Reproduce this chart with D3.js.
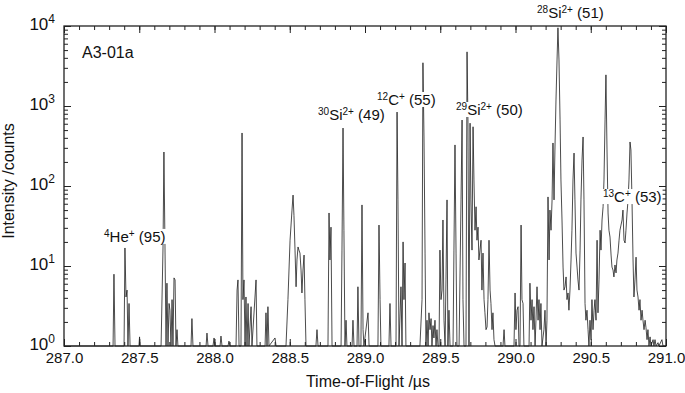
<!DOCTYPE html>
<html>
<head>
<meta charset="utf-8">
<script src="https://cdn.jsdelivr.net/npm/d3@7"></script>
<style>
body { margin: 0; background: #fff; }
text { font-family: "Liberation Sans", Arial, Helvetica, sans-serif; fill: #111; }
</style>
</head>
<body>
<svg width="685" height="393"></svg>
<script>
// time-of-flight (us), intensity (counts)
var spectrum = [
  [287.0,1],
  [287.326,1],[287.332,7.9],[287.339,1],
  [287.399,1],[287.405,16.8],[287.412,4.1],[287.419,5.0],[287.425,1],[287.432,3.4],[287.439,1],
  [287.498,1],[287.502,1.3],[287.505,1],
  [287.645,1],[287.658,17.3],[287.664,266],[287.671,17.3],[287.678,1],[287.684,6.1],[287.691,1],[287.698,3.4],[287.704,2.8],[287.711,1],[287.718,3.8],[287.724,1],[287.731,7.1],[287.738,6.7],[287.744,1],[287.751,1.6],[287.757,1],
  [287.844,1],[287.850,2.2],[287.857,1],
  [287.944,1],[287.950,1.45],[287.957,1],
  [287.990,1],[287.997,1.26],[288.003,1],
  [288.037,1],[288.043,1.33],[288.050,1],
  [288.090,1],[288.096,1.15],[288.103,1],
  [288.143,1],[288.150,5.0],[288.156,6.7],[288.163,1],[288.176,1],[288.183,460],[288.189,3.8],[288.196,6.7],[288.203,1],[288.209,4.1],[288.216,1],[288.223,3.4],[288.229,1],[288.243,3.1],[288.249,1],[288.276,6.7],[288.282,1],
  [288.336,1],[288.342,2.6],[288.349,1],[288.355,3.1],[288.362,1],[288.402,1.26],[288.409,1],
  [288.475,1],[288.488,3.8],[288.502,21],[288.515,50],[288.522,77],[288.528,43],[288.535,15.8],[288.542,5.5],[288.548,11.9],[288.555,17.3],[288.561,15.8],[288.568,14.5],[288.575,8.9],[288.581,4.6],[288.588,8.9],[288.595,13.7],[288.601,3.8],[288.608,1],
  [288.674,1],[288.681,1.6],[288.688,1],
  [288.754,1],[288.761,46],[288.767,11.9],[288.774,30.6],[288.781,1],
  [288.841,1],[288.847,15.8],[288.854,530],[288.860,28],[288.867,1],[288.874,2.1],[288.880,1],
  [288.914,1],[288.920,2.1],[288.927,1],
  [288.947,1],[288.953,5.5],[288.960,1],[288.973,1],[288.980,58],[288.987,1.6],[288.993,1],[289.020,2.6],[289.027,1],
  [289.086,1],[289.093,32.5],[289.100,3.8],[289.106,1],
  [289.159,1],[289.166,3.4],[289.173,1],
  [289.206,1],[289.213,840],[289.219,67],[289.226,1],[289.239,5.5],[289.246,1],[289.253,20],[289.259,3.8],[289.266,10.9],[289.272,1],
  [289.365,1],[289.379,3.8],[289.385,3470],[289.392,410],[289.399,14.5],[289.405,1],[289.412,2.1],[289.419,1],[289.425,2.6],[289.432,1.6],[289.439,2.2],[289.445,1],[289.452,1.8],[289.458,1.26],[289.465,2.1],[289.472,1],[289.478,1.6],[289.485,1],
  [289.492,1],[289.498,15.8],[289.505,3.8],[289.512,5.0],[289.518,37.6],[289.525,2.1],[289.532,1],[289.538,6.7],[289.545,67],[289.551,1],[289.558,2.8],[289.565,1],
  [289.585,1],[289.591,15.8],[289.598,326],[289.605,14.5],[289.611,1],
  [289.625,1],[289.638,67],[289.645,668],[289.651,3.8],[289.658,1],
  [289.671,1],[289.678,4750],[289.684,668],[289.691,1],[289.698,610],[289.704,67],[289.711,15.8],[289.718,550],[289.724,119],[289.731,28],[289.738,55],[289.744,21],[289.751,30.6],[289.757,11.9],[289.764,15.8],[289.771,21],[289.777,5.0],[289.784,14.5],[289.791,3.8],[289.797,2.6],[289.804,1.6],[289.811,1.73],[289.817,3.8],[289.824,21],[289.831,5.0],[289.837,3.4],[289.844,1.6],[289.850,2.6],[289.857,1.2],[289.864,1],
  [289.917,1],[289.924,1.6],[289.930,1],
  [289.990,1],[289.997,4.6],[290.003,1.6],[290.010,2.8],[290.017,3.1],[290.023,1],[290.030,1],[290.037,32.5],[290.043,3.8],[290.050,3.4],[290.056,1],
  [290.090,1],[290.096,6.1],[290.103,2.1],[290.110,3.8],[290.116,1.6],[290.123,3.1],[290.130,1],[290.136,2.1],[290.143,5.5],[290.150,2.1],[290.156,3.8],[290.163,1.6],[290.169,3.4],[290.176,1],[290.189,1.6],[290.196,2.8],[290.203,1],
  [290.209,2.1],[290.216,73],[290.223,11.9],[290.229,50],[290.236,28],[290.243,67],[290.249,345],[290.256,67],[290.262,282],[290.269,1190],[290.276,3760],[290.282,9500],[290.289,3760],[290.296,670],[290.302,119],[290.309,37.6],[290.316,9.7],[290.322,5.0],[290.329,5.5],[290.336,7.3],[290.342,3.8],[290.349,4.6],[290.355,2.8],[290.362,5.0],[290.369,11.9],[290.375,28],[290.382,119],[290.389,258],[290.395,67],[290.402,14.5],[290.409,9.7],[290.415,6.7],[290.422,5.0],[290.429,15.8],[290.435,67],[290.442,211],[290.449,410],[290.455,67],[290.462,3.4],[290.468,2.1],[290.475,2.8],[290.482,1.6],[290.488,1],[290.495,2.1],[290.502,1.2],[290.508,3.8],[290.515,1.6],[290.522,2.8],[290.528,3.8],[290.535,2.1],[290.542,21],[290.548,2.6],[290.555,6.7],
  [290.562,28],[290.568,15.8],[290.575,37.6],[290.582,55],[290.588,119],[290.595,670],[290.601,2450],[290.608,282],[290.615,46],[290.621,28],[290.628,23],[290.635,13.7],[290.641,9.7],[290.648,8.9],[290.654,7.3],[290.661,10.3],[290.668,8.2],[290.674,11.9],[290.681,14.5],[290.688,21],[290.694,28],[290.701,32.5],[290.708,37.6],[290.714,50],[290.721,21],[290.728,19.4],[290.734,28],[290.741,46],[290.748,67],[290.754,119],[290.761,355],[290.767,282],[290.774,67],[290.781,11.9],[290.787,4.1],[290.794,6.7],[290.801,12.9],[290.807,5.0],[290.814,4.1],[290.821,2.8],[290.827,3.8],[290.834,2.1],[290.841,2.8],[290.847,2.1],[290.854,1.6],[290.861,2.1],[290.867,1.7],[290.874,1.2],[290.880,1.6],[290.887,1],[290.894,1.3],[290.900,1],
  [290.914,1.2],[290.920,1],[290.927,1.2],[290.934,1],[290.947,1.1],[290.953,1],[290.973,1.2],[290.980,1],[291.0,1]
];

var xTicks = [287.0, 287.5, 288.0, 288.5, 289.0, 289.5, 290.0, 290.5, 291.0];
var yTicks = [1, 10, 100, 1000, 10000];
var yExponents = ["0", "1", "2", "3", "4"];

// peak annotations
var labelIsotope = ["4", "30", "12", "29", "28", "13"];
var labelElement = ["He", "Si", "C", "Si", "Si", "C"];
var labelCharge  = ["+", "2+", "+", "2+", "2+", "+"];
var labelNumber  = [" (95)", " (49)", " (55)", " (50)", " (51)", " (53)"];
var labelTof     = [287.266, 288.688, 289.080, 289.605, 290.143, 290.581];
var labelCounts  = [20, 668, 1030, 772, 12600, 63];

var sampleName = "A3-01a";

var width = 685, height = 393;
var margin = {left: 64, right: 19, top: 26, bottom: 47};

var svg = d3.select("svg");

var x = d3.scaleLinear().domain([287, 291]).range([margin.left, width - margin.right]);
var y = d3.scaleLog().domain([1, 1e4]).range([height - margin.bottom, margin.top]);

var xMinor = d3.range(2870, 2911).map(function(d) { return d / 10; });
var yMinor = [];
yTicks.slice(0, 4).forEach(function(dec) {
  for (var k = 2; k <= 9; k++) yMinor.push(dec * k);
});

var bottom = height - margin.bottom;
var right = width - margin.right;

// spectrum trace
var line = d3.line()
  .x(function(d) { return x(d[0]); })
  .y(function(d) { return y(d[1]); });

svg.append("path")
  .attr("d", line(spectrum))
  .attr("fill", "none")
  .attr("stroke", "#1e1e1e")
  .attr("stroke-width", 0.8)
  .attr("stroke-linejoin", "round");

// axes, ticks pointing inwards
function styleAxis(g) {
  g.attr("font-family", "Liberation Sans, Arial, sans-serif").attr("color", "#222");
  g.select(".domain").remove();
}

svg.append("g")
  .attr("transform", "translate(0," + bottom + ")")
  .call(d3.axisBottom(x).tickValues(xTicks).tickSizeInner(-7).tickSizeOuter(0).tickPadding(6).tickFormat(d3.format(".1f")))
  .call(styleAxis)
  .attr("font-size", 15);

svg.append("g")
  .attr("transform", "translate(0," + bottom + ")")
  .call(d3.axisBottom(x).tickValues(xMinor).tickSizeInner(-4).tickSizeOuter(0).tickFormat(""))
  .call(styleAxis);

svg.append("g")
  .attr("transform", "translate(0," + margin.top + ")")
  .call(d3.axisTop(x).tickValues(xTicks).tickSizeInner(-7).tickSizeOuter(0).tickFormat(""))
  .call(styleAxis);

svg.append("g")
  .attr("transform", "translate(0," + margin.top + ")")
  .call(d3.axisTop(x).tickValues(xMinor).tickSizeInner(-4).tickSizeOuter(0).tickFormat(""))
  .call(styleAxis);

var yAxisG = svg.append("g")
  .attr("transform", "translate(" + margin.left + ",0)")
  .call(d3.axisLeft(y).tickValues(yTicks).tickSizeInner(-7).tickSizeOuter(0).tickPadding(9).tickFormat(""))
  .call(styleAxis)
  .attr("font-size", 17);

yAxisG.selectAll(".tick text").each(function(d, i) {
  var t = d3.select(this).attr("dy", "0.2em");
  t.append("tspan").text("10");
  t.append("tspan").attr("dy", -7).attr("font-size", 12).text(yExponents[i]);
});

svg.append("g")
  .attr("transform", "translate(" + margin.left + ",0)")
  .call(d3.axisLeft(y).tickValues(yMinor).tickSizeInner(-4).tickSizeOuter(0).tickFormat(""))
  .call(styleAxis);

svg.append("g")
  .attr("transform", "translate(" + right + ",0)")
  .call(d3.axisRight(y).tickValues(yTicks).tickSizeInner(-7).tickSizeOuter(0).tickFormat(""))
  .call(styleAxis);

svg.append("g")
  .attr("transform", "translate(" + right + ",0)")
  .call(d3.axisRight(y).tickValues(yMinor).tickSizeInner(-4).tickSizeOuter(0).tickFormat(""))
  .call(styleAxis);

// frame
svg.append("rect")
  .attr("x", margin.left)
  .attr("y", margin.top)
  .attr("width", right - margin.left)
  .attr("height", bottom - margin.top)
  .attr("fill", "none")
  .attr("stroke", "#222")
  .attr("stroke-width", 1.3);

// axis titles
svg.append("text")
  .attr("x", (margin.left + right) / 2 + 3)
  .attr("y", height - 6)
  .attr("text-anchor", "middle")
  .attr("font-size", 16)
  .text("Time-of-Flight /\u00b5s");

svg.append("text")
  .attr("transform", "rotate(-90)")
  .attr("x", -181)
  .attr("y", 14)
  .attr("text-anchor", "middle")
  .attr("font-size", 16)
  .text("Intensity /counts");

// sample name
svg.append("text")
  .attr("x", x(287.12))
  .attr("y", y(3980))
  .attr("font-size", 16)
  .text(sampleName);

// peak labels with white backing
labelTof.forEach(function(t, i) {
  var g = svg.append("g");
  var txt = g.append("text")
    .attr("x", x(t))
    .attr("y", y(labelCounts[i]))
    .attr("font-size", 15);
  txt.append("tspan").attr("font-size", 10).attr("dy", -5).text(labelIsotope[i]);
  txt.append("tspan").attr("dy", 5).text(labelElement[i]);
  txt.append("tspan").attr("font-size", 10).attr("dy", -5).text(labelCharge[i]);
  txt.append("tspan").attr("dy", 5).text(labelNumber[i]);
  var bb = txt.node().getBBox();
  g.insert("rect", "text")
    .attr("x", bb.x - 1)
    .attr("y", bb.y + 1)
    .attr("width", bb.width + 2)
    .attr("height", bb.height - 2)
    .attr("fill", "#fff");
});
</script>
</body>
</html>
